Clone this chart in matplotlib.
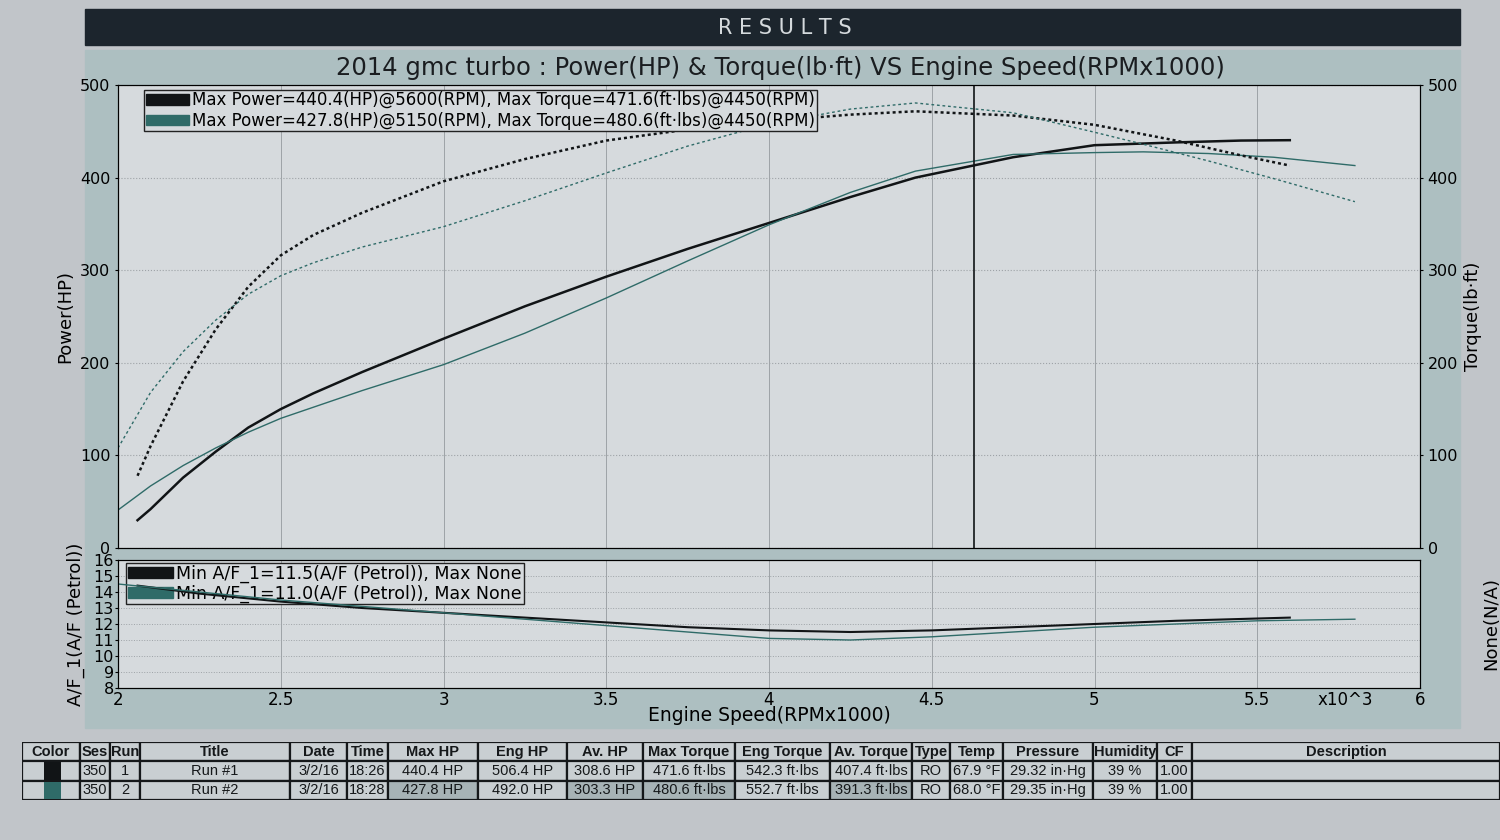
import matplotlib.pyplot as plt
from matplotlib.patches import Patch, Rectangle
from matplotlib.transforms import blended_transform_factory

# --- Run 1 (black) ---
rpm_1 = [2.06, 2.1, 2.2, 2.3, 2.4, 2.5, 2.6, 2.75, 3.0, 3.25, 3.5, 3.75,
         4.0, 4.25, 4.45, 4.75, 5.0, 5.25, 5.45, 5.6]
power_1 = [30, 42, 76, 104, 130, 150, 167, 190, 226, 261, 293, 323,
           351, 379, 400, 422, 435, 438, 440, 440.4]
torque_1 = [78, 110, 180, 236, 282, 316, 338, 362, 396, 420, 440, 452,
            461, 468, 471.6, 467, 457, 440, 424, 413]
af_rpm_1 = [2.06, 2.25, 2.5, 2.75, 3.0, 3.25, 3.5, 3.75, 4.0, 4.25, 4.5,
            4.75, 5.0, 5.25, 5.6]
af_1 = [14.4, 13.9, 13.4, 13.0, 12.7, 12.4, 12.1, 11.8, 11.6, 11.5, 11.6,
        11.8, 12.0, 12.2, 12.4]

# --- Run 2 (teal) ---
rpm_2 = [2.0, 2.1, 2.2, 2.3, 2.4, 2.5, 2.6, 2.75, 3.0, 3.25, 3.5, 3.75,
         4.0, 4.25, 4.45, 4.75, 5.0, 5.15, 5.35, 5.55, 5.8]
power_2 = [41, 67, 89, 108, 125, 140, 152, 170, 198, 232, 270, 310,
           349, 384, 407, 425, 427, 427.8, 426, 422, 413]
torque_2 = [108, 168, 212, 246, 274, 294, 308, 325, 347, 375, 405, 434,
            458, 474, 480.6, 470, 449, 436, 418, 399, 374]
af_rpm_2 = [2.0, 2.25, 2.5, 2.75, 3.0, 3.25, 3.5, 3.75, 4.0, 4.25, 4.5,
            4.75, 5.0, 5.25, 5.5, 5.8]
af_2 = [14.5, 14.0, 13.5, 13.1, 12.7, 12.3, 11.9, 11.5, 11.1, 11.0, 11.2,
        11.5, 11.8, 12.0, 12.2, 12.3]

cursor_rpm = 4.63

legenda_main = ["Max Power=440.4(HP)@5600(RPM), Max Torque=471.6(ft·lbs)@4450(RPM)",
                "Max Power=427.8(HP)@5150(RPM), Max Torque=480.6(ft·lbs)@4450(RPM)"]
legenda_af = ["Min A/F_1=11.5(A/F (Petrol)), Max None",
              "Min A/F_1=11.0(A/F (Petrol)), Max None"]

# --- tabela ---
cabecalho = ["Color", "Ses", "Run", "Title", "Date", "Time", "Max HP", "Eng HP",
             "Av. HP", "Max Torque", "Eng Torque", "Av. Torque", "Type", "Temp",
             "Pressure", "Humidity", "CF", "Description"]
linha_1 = ["", "350", "1", "Run #1", "3/2/16", "18:26", "440.4 HP", "506.4 HP",
           "308.6 HP", "471.6 ft·lbs", "542.3 ft·lbs", "407.4 ft·lbs", "RO",
           "67.9 °F", "29.32 in·Hg", "39 %", "1.00", ""]
linha_2 = ["", "350", "2", "Run #2", "3/2/16", "18:28", "427.8 HP", "492.0 HP",
           "303.3 HP", "480.6 ft·lbs", "552.7 ft·lbs", "391.3 ft·lbs", "RO",
           "68.0 °F", "29.35 in·Hg", "39 %", "1.00", ""]
largura_col = [58, 30, 30, 150, 57, 41, 90, 89, 76, 92, 95, 82, 38, 53, 90, 64, 35, 308]
sombreadas_2 = [6, 8, 9, 11]

cor_1 = '#111416'
cor_2 = '#2f6b68'
fundo_fig = '#c1c5c9'
fundo_painel = '#adbfc1'
fundo_plot = '#d6dadd'

W, H = 1500, 840
fig = plt.figure(figsize=(15, 8.4), dpi=100)
fig.patch.set_facecolor(fundo_fig)

# faixa RESULTS
fig.patches.append(Rectangle((85 / W, 1 - 45 / H), 1375 / W, 36 / H,
                             transform=fig.transFigure, color='#1c252d', zorder=-10))
fig.text(0.523, 1 - 28 / H, "R E S U L T S", color='#d5dadd', fontsize=15,
         ha='center', va='center')
# painel do grafico
fig.patches.append(Rectangle((85 / W, 1 - 728 / H), 1375 / W, 678 / H,
                             transform=fig.transFigure, color=fundo_painel, zorder=-10))

fig.text(0.52, 1 - 68 / H,
         "2014 gmc turbo : Power(HP) & Torque(lb·ft) VS Engine Speed(RPMx1000)",
         fontsize=17.5, ha='center', va='center', color='#1a1d20')

# --- eixo principal ---
ax = fig.add_axes([118 / W, 1 - 548 / H, 1302 / W, 463 / H])
ax.set_facecolor(fundo_plot)
ax.plot(rpm_1, power_1, '-', color=cor_1, lw=1.8)
ax.plot(rpm_2, power_2, '-', color=cor_2, lw=1.0)
ax.set_xlim(2, 6)
ax.set_ylim(0, 500)
ax.set_yticks(range(0, 501, 100))
ax.set_xticks([2, 2.5, 3, 3.5, 4, 4.5, 5, 5.5, 6])
ax.tick_params(axis='x', labelbottom=False, length=0)
ax.tick_params(axis='y', labelsize=11.5, length=2)
ax.xaxis.grid(True, color='#9ea3a7', lw=0.7)
ax.yaxis.grid(True, color='#9ea3a7', lw=0.8, linestyle=':')
ax.set_ylabel("Power(HP)", fontsize=13, labelpad=4)
ax.axvline(cursor_rpm, color='#111416', lw=1.2)

ax2 = ax.twinx()
ax2.plot(rpm_1, torque_1, color=cor_1, lw=1.8, linestyle=(0, (1.2, 1.2)))
ax2.plot(rpm_2, torque_2, color=cor_2, lw=1.0, linestyle=(0, (2, 2)))
ax2.set_ylim(0, 500)
ax2.set_yticks(range(0, 501, 100))
ax2.tick_params(axis='y', labelsize=11.5, length=2)
ax2.set_ylabel("Torque(lb·ft)", fontsize=13, labelpad=4)

hand = [Patch(facecolor=cor_1, edgecolor=cor_1), Patch(facecolor=cor_2, edgecolor=cor_2)]
leg = ax2.legend(hand, legenda_main, loc='upper left', bbox_to_anchor=(0.02, 0.99),
                 fontsize=12, frameon=True, fancybox=False, framealpha=1,
                 facecolor=fundo_plot, edgecolor='#222', borderpad=0.1,
                 labelspacing=0.15, handlelength=2.6, handleheight=0.6,
                 handletextpad=0.2, borderaxespad=0.0)
leg.get_frame().set_linewidth(1.0)

# --- eixo A/F ---
ax_af = fig.add_axes([118 / W, 1 - 688 / H, 1302 / W, 128 / H])
ax_af.set_facecolor(fundo_plot)
ax_af.plot(af_rpm_1, af_1, color=cor_1, lw=1.5, zorder=6)
ax_af.plot(af_rpm_2, af_2, color=cor_2, lw=1.0, zorder=6)
ax_af.set_xlim(2, 6)
ax_af.set_ylim(8, 16)
ax_af.set_yticks(range(8, 17))
ax_af.set_xticks([2, 2.5, 3, 3.5, 4, 4.5, 5, 5.5, 6])
ax_af.set_xticklabels(['2', '2.5', '3', '3.5', '4', '4.5', '5', '5.5', '6'])
ax_af.tick_params(axis='x', labelsize=12, length=0, pad=2)
ax_af.tick_params(axis='y', labelsize=11.5, length=2, pad=1)
ax_af.xaxis.grid(True, color='#9ea3a7', lw=0.7)
ax_af.yaxis.grid(True, color='#9ea3a7', lw=0.7, linestyle=':')
ax_af.set_xlabel("Engine Speed(RPMx1000)", fontsize=13.5, labelpad=-2)
ax_af.set_ylabel("A/F_1(A/F (Petrol))", fontsize=13, labelpad=6)
trans = blended_transform_factory(ax_af.transData, ax_af.transAxes)
ax_af.text(5.77, -0.02, "x10^3", transform=trans, ha='center', va='top', fontsize=12)
ax_af_r = ax_af.twinx()
ax_af_r.set_yticks([])
ax_af_r.set_ylabel("None(N/A)", fontsize=13, labelpad=45)
leg2 = ax_af.legend(hand, legenda_af, loc='upper left', bbox_to_anchor=(0.006, 0.98),
                    fontsize=12.5, frameon=True, fancybox=False, framealpha=1,
                    facecolor=fundo_plot, edgecolor='#222', borderpad=0.1,
                    labelspacing=0.1, handlelength=2.6, handleheight=0.6,
                    handletextpad=0.2, borderaxespad=0.0)
leg2.get_frame().set_linewidth(1.0)

# --- tabela de resultados ---
tab = fig.add_axes([22 / W, 1 - 800 / H, 1478 / W, 58 / H])
tab.set_xlim(0, sum(largura_col))
tab.set_ylim(0, 3)
tab.axis('off')
fonte_tab = ['Liberation Sans Narrow', 'Liberation Sans', 'DejaVu Sans']
for r, linha in enumerate([cabecalho, linha_1, linha_2]):
    y0 = 2 - r
    x0 = 0
    for c, txt in enumerate(linha):
        w = largura_col[c]
        fc = '#a7b3b6' if (r == 2 and c in sombreadas_2) else '#c9cfd2'
        tab.add_patch(Rectangle((x0, y0), w, 1, facecolor=fc, edgecolor='#15181a', lw=1.6))
        if r > 0 and c == 0:
            tab.add_patch(Rectangle((x0 + w * 0.38, y0 + 0.05), w * 0.3, 0.9,
                                    facecolor=cor_1 if r == 1 else cor_2, lw=0))
        tab.text(x0 + w / 2, y0 + 0.5, txt, ha='center', va='center', fontsize=10.5,
                 fontweight='bold' if r == 0 else 'normal', family=fonte_tab,
                 color='#15181a')
        x0 += w

fig.savefig("out.png", dpi=100, facecolor=fig.get_facecolor())
